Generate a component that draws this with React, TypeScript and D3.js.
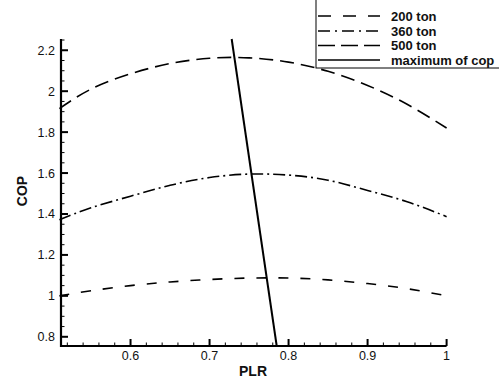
import React from "react";
import * as d3 from "d3";

const plr = [0.51, 0.55, 0.6, 0.65, 0.7, 0.75, 0.8, 0.85, 0.9, 0.95, 1.0];
const cop200 = [1.0, 1.025, 1.05, 1.068, 1.08, 1.087, 1.087, 1.078, 1.06, 1.035, 1.0];
const cop360 = [1.372, 1.43, 1.487, 1.54, 1.578, 1.595, 1.59, 1.565, 1.515, 1.46, 1.387];
const cop500 = [1.915, 2.01, 2.085, 2.135, 2.161, 2.163, 2.142, 2.097, 2.028, 1.936, 1.82];
const maxPLR = [0.728, 0.785];
const maxCOP = [2.255, 0.755];

const seriesNames = ["200 ton", "360 ton", "500 ton", "maximum of cop"];
const xTicks = [0.6, 0.7, 0.8, 0.9, 1];
const yTicks = [0.8, 1, 1.2, 1.4, 1.6, 1.8, 2, 2.2];

export default function App() {
  const W = 499, H = 378;
  const x = d3.scaleLinear().domain([0.512, 1.0]).range([61, 446.6]);
  const y = d3.scaleLinear().domain([0.755, 2.255]).range([346, 39]);
  const line = d3.line<[number, number]>().x(d => x(d[0])).y(d => y(d[1])).curve(d3.curveNatural);
  const mk = (arr: number[]) => plr.map((p, i) => [p, arr[i]] as [number, number]);
  const series = [
    { data: mk(cop200), dash: "10,12", ldash: "13,12" },
    { data: mk(cop360), dash: "12,4,2,4", ldash: "12,5,2,5" },
    { data: mk(cop500), dash: "14,7", ldash: "17,6" },
  ];
  const xMinor = d3.range(0.52, 1.0001, 0.02).filter(v => !xTicks.some(t => Math.abs(t - v) < 1e-6));
  const yMinor = d3.range(0.8, 2.2501, 0.05).filter(v => !yTicks.some(t => Math.abs(t - v) < 1e-6));
  const font = "'Liberation Sans', Arial, sans-serif";
  const legendY = [16, 31, 45.5, 60];
  return (
    <svg width={W} height={H} style={{ position: "absolute", left: 0, top: 0, background: "#fff" }} fontFamily={font}>
      <rect width={W} height={H} fill="#fff" />
      {series.map((s, i) => (
        <path key={i} d={line(s.data) || ""} fill="none" stroke="#000" strokeWidth={1.6} strokeDasharray={s.dash} />
      ))}
      <line x1={x(maxPLR[0])} y1={y(maxCOP[0])} x2={x(maxPLR[1])} y2={y(maxCOP[1])} stroke="#000" strokeWidth={2} />
      {/* axes */}
      <line x1={x.range()[0]} y1={346} x2={x.range()[1]} y2={346} stroke="#000" strokeWidth={2.2} />
      <line x1={61} y1={39} x2={61} y2={347} stroke="#000" strokeWidth={2.2} />
      {xTicks.map(t => (
        <g key={t}>
          <line x1={x(t)} x2={x(t)} y1={346} y2={339} stroke="#000" strokeWidth={2} />
          <text x={x(t)} y={360} fontSize={12.5} textAnchor="middle" fill="#111">{String(t)}</text>
        </g>
      ))}
      {xMinor.map(t => (
        <line key={t} x1={x(t)} x2={x(t)} y1={346} y2={342.5} stroke="#000" strokeWidth={1} />
      ))}
      {yTicks.map(t => (
        <g key={t}>
          <line x1={61} x2={68} y1={y(t)} y2={y(t)} stroke="#000" strokeWidth={2} />
          <text x={55} y={y(t) + 4.5} fontSize={12.5} textAnchor="end" fill="#111">{String(t)}</text>
        </g>
      ))}
      {yMinor.map(t => (
        <line key={t} x1={61} x2={64.5} y1={y(t)} y2={y(t)} stroke="#000" strokeWidth={1} />
      ))}
      <text x={253} y={376} fontSize={14} fontWeight="bold" textAnchor="middle" fill="#111">PLR</text>
      <text transform="translate(27,191) rotate(-90)" fontSize={14} fontWeight="bold" textAnchor="middle" fill="#111">COP</text>
      {/* legend */}
      <rect x={316} y={-2} width={200} height={70} fill="#fff" stroke="#000" strokeWidth={1} />
      {seriesNames.map((n, i) => (
        <g key={n}>
          <line x1={318} x2={380} y1={legendY[i]} y2={legendY[i]} stroke="#000" strokeWidth={1.6}
            strokeDasharray={i < 3 ? series[i].ldash : undefined} />
          <text x={391} y={legendY[i] + 4.5} fontSize={13} fontWeight="bold" fill="#111">{n}</text>
        </g>
      ))}
    </svg>
  );
}
